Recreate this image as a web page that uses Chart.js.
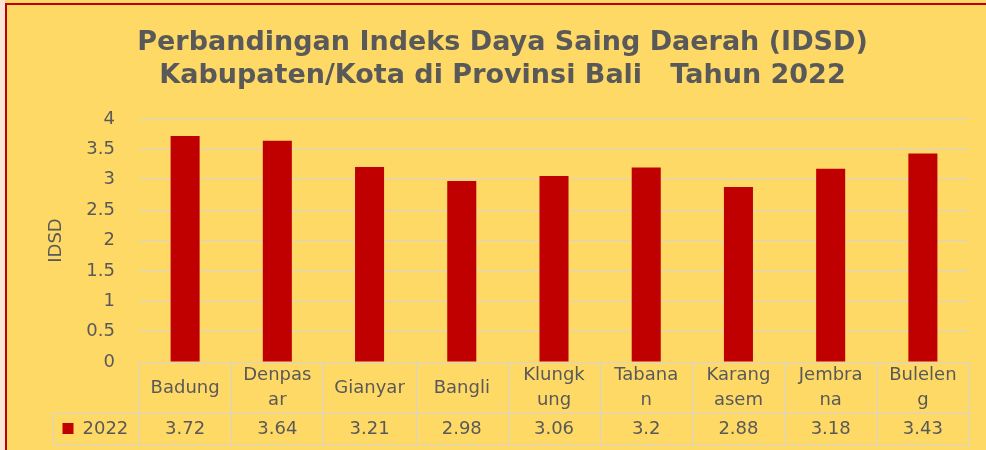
<!DOCTYPE html>
<html>
<head>
<meta charset="utf-8">
<script src="https://cdn.jsdelivr.net/npm/chart.js@4.4.1/dist/chart.umd.min.js"></script>
<style>
  html, body { margin: 0; padding: 0; background: #FFD966; }
  #wrap { width: 986px; height: 450px; }
</style>
</head>
<body>
<div id="wrap"><canvas id="chart" width="986" height="450"></canvas></div>
<script>
// data
const regions = [['Badung'], ['Denpas', 'ar'], ['Gianyar'], ['Bangli'], ['Klungk', 'ung'],
                 ['Tabana', 'n'], ['Karang', 'asem'], ['Jembra', 'na'], ['Bulelen', 'g']];
const idsd2022 = [3.72, 3.64, 3.21, 2.98, 3.06, 3.2, 2.88, 3.18, 3.43];
const valueLabels = ['3.72', '3.64', '3.21', '2.98', '3.06', '3.2', '2.88', '3.18', '3.43'];
const seriesName = '2022';
const titleLines = ['Perbandingan Indeks Daya Saing Daerah (IDSD)',
                    'Kabupaten/Kota di Provinsi Bali   Tahun 2022'];

const TEXT = '#595959';
const GRID = '#D4D4D4';
const BAR = '#C00000';
const FONT = '"DejaVu Sans", sans-serif';

// frame + data table under the plot (Excel style)
const tablePlugin = {
  id: 'dataTable',
  beforeDraw(chart) {
    const ctx = chart.ctx;
    ctx.save();
    ctx.fillStyle = '#FCE4D6';
    ctx.fillRect(0, 0, 5, chart.height);
    ctx.fillStyle = BAR;
    ctx.fillRect(5, 3, 2, chart.height - 3);
    ctx.fillRect(5, 3, chart.width - 5, 2);
    ctx.restore();
  },
  afterDraw(chart) {
    const { ctx, chartArea } = chart;
    const x = chart.scales.x;
    const n = regions.length;
    const step = x.getPixelForValue(1) - x.getPixelForValue(0);
    const top = Math.round(chartArea.bottom) + 0.5;
    const mid = top + 51;
    const bot = mid + 31;
    const legLeft = Math.round(chartArea.left) - 86 + 0.5;
    const left = Math.round(chartArea.left) + 0.5;
    const right = Math.round(chartArea.left + n * step) + 0.5;

    ctx.save();
    ctx.strokeStyle = GRID;
    ctx.lineWidth = 1;
    ctx.beginPath();
    ctx.moveTo(left, top); ctx.lineTo(right, top);
    ctx.moveTo(legLeft, mid); ctx.lineTo(right, mid);
    ctx.moveTo(legLeft, bot); ctx.lineTo(right, bot);
    ctx.moveTo(legLeft, mid); ctx.lineTo(legLeft, bot);
    for (let i = 0; i <= n; i++) {
      const xx = Math.round(chartArea.left + i * step) + 0.5;
      ctx.moveTo(xx, top); ctx.lineTo(xx, bot);
    }
    ctx.stroke();

    ctx.fillStyle = TEXT;
    ctx.font = '18px ' + FONT;
    ctx.textAlign = 'center';
    ctx.textBaseline = 'middle';

    // category header row (wrapped like the Excel table)
    const headY = (top + mid) / 2;
    const lh = 25;
    regions.forEach((lines, i) => {
      const cx = x.getPixelForValue(i);
      const y0 = headY - (lines.length - 1) * lh / 2;
      lines.forEach((t, k) => ctx.fillText(t, cx, y0 + k * lh));
    });

    // values row
    const rowY = (mid + bot) / 2;
    valueLabels.forEach((v, i) => {
      ctx.fillText(v, x.getPixelForValue(i), rowY);
    });

    // legend key
    ctx.fillStyle = BAR;
    ctx.fillRect(legLeft + 9, rowY - 6, 11, 11);
    ctx.fillStyle = TEXT;
    ctx.textAlign = 'left';
    ctx.fillText(seriesName, legLeft + 29, rowY);
    ctx.restore();
  }
};

new Chart(document.getElementById('chart'), {
  type: 'bar',
  data: {
    labels: regions,
    datasets: [{
      label: seriesName,
      data: idsd2022,
      backgroundColor: BAR,
      barPercentage: 0.315,
      categoryPercentage: 1
    }]
  },
  options: {
    responsive: false,
    animation: false,
    layout: { padding: { left: 36, right: 17, top: 0, bottom: 0 } },
    plugins: {
      legend: { display: false },
      tooltip: { enabled: false },
      title: {
        display: true,
        text: titleLines,
        color: TEXT,
        font: { family: FONT, size: 27, weight: 'bold', lineHeight: 1.222 },
        padding: { top: 26, bottom: 27 }
      }
    },
    scales: {
      x: {
        grid: { display: false, drawTicks: false },
        border: { display: false },
        ticks: { display: false },
        afterFit(scale) { scale.height = 88; }
      },
      y: {
        min: 0,
        max: 4,
        grid: { color: GRID, drawTicks: false },
        border: { display: false },
        ticks: {
          stepSize: 0.5,
          color: TEXT,
          padding: 24,
          font: { family: FONT, size: 18 },
          callback: (v) => String(v)
        },
        title: {
          display: true,
          text: 'IDSD',
          color: TEXT,
          font: { family: FONT, size: 18 },
          padding: { top: 10 }
        },
        afterFit(scale) { scale.width = 103; }
      }
    }
  },
  plugins: [tablePlugin]
});
</script>
</body>
</html>
